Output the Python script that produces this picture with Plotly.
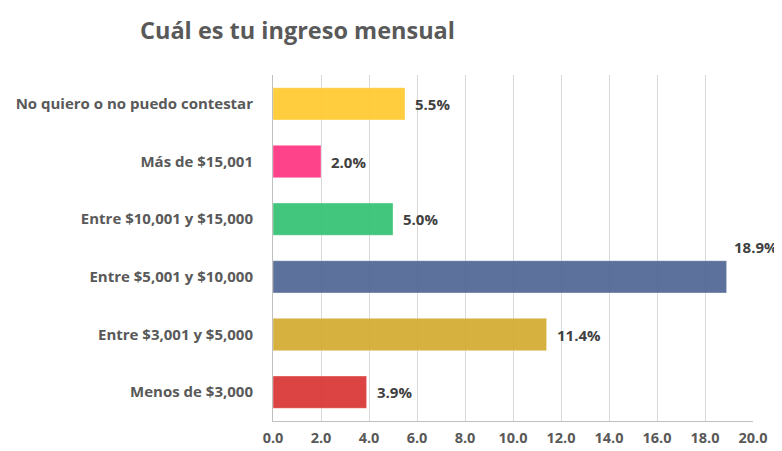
import plotly.graph_objects as go

# categories from bottom to top, as drawn
categories = [
    "Menos de $3,000",
    "Entre $3,001 y $5,000",
    "Entre $5,001 y $10,000",
    "Entre $10,001 y $15,000",
    "Más de $15,001",
    "No quiero o no puedo contestar",
]
values = [3.9, 11.4, 18.9, 5.0, 2.0, 5.5]
colors = ["#D8302F", "#D2A92C", "#4B6392", "#2EC06F", "#FF2F7E", "#FFC82A"]
tick_values = [0, 2, 4, 6, 8, 10, 12, 14, 16, 18, 20]

FONT = "Open Sans"
TEXT_GREY = "#404040"

# the page body adds an 8px margin, so the figure is 8px smaller each way
W, H = 774, 443
L, R, T, B = 265, 29, 67, 30
PLOT_W, PLOT_H = W - L - R, H - T - B

fig = go.Figure()
fig.add_trace(
    go.Bar(
        x=values,
        y=categories,
        orientation="h",
        marker={"color": colors, "opacity": 0.9, "line": {"width": 1, "color": "rgba(255,255,255,0.35)"}},
        hoverinfo="skip",
    )
)

# data labels; the longest bar's label sits up and to the right like the original
for cat, val in zip(categories, values):
    raised = val == max(values)
    fig.add_annotation(
        x=val,
        y=cat,
        text=f"<b>{val:.1f}%</b>",
        showarrow=False,
        xanchor="left",
        xshift=5 if raised else 8,
        yshift=30 if raised else 0,
        font={"family": FONT, "size": 15, "color": TEXT_GREY},
    )

# title as an annotation (paper coords are relative to the plot area)
fig.add_annotation(
    x=(130 - L) / PLOT_W,
    y=1 + (T - 4) / PLOT_H,
    xref="paper",
    yref="paper",
    xanchor="left",
    yanchor="top",
    showarrow=False,
    text="<b>Cuál es tu ingreso mensual</b>",
    font={"family": FONT, "size": 23.5, "color": "#595959"},
)

fig.update_layout(
    width=W,
    height=H,
    margin={"l": L, "r": R, "t": T, "b": B, "autoexpand": False},
    paper_bgcolor="white",
    plot_bgcolor="white",
    bargap=0.44,
    showlegend=False,
    xaxis={
        "range": [0, 20],
        "tickvals": tick_values,
        "ticktext": [f"<b>{v:.1f}</b>" for v in tick_values],
        "showgrid": True,
        "gridcolor": "#D9D9D9",
        "gridwidth": 1,
        "showline": True,
        "linecolor": "#BFBFBF",
        "zeroline": False,
        "ticks": "",
        "ticklabelstandoff": 4,
        "tickfont": {"family": FONT, "size": 14.5, "color": "#595959"},
        "fixedrange": True,
    },
    yaxis={
        "categoryorder": "array",
        "categoryarray": categories,
        "showline": True,
        "linecolor": "#BFBFBF",
        "showgrid": False,
        "ticks": "",
        "ticklabelstandoff": 16,
        "tickfont": {"family": FONT, "size": 15, "color": "#595959"},
        "tickprefix": "<b>",
        "ticksuffix": "</b>",
        "fixedrange": True,
    },
)

fig.write_html("out.html")
